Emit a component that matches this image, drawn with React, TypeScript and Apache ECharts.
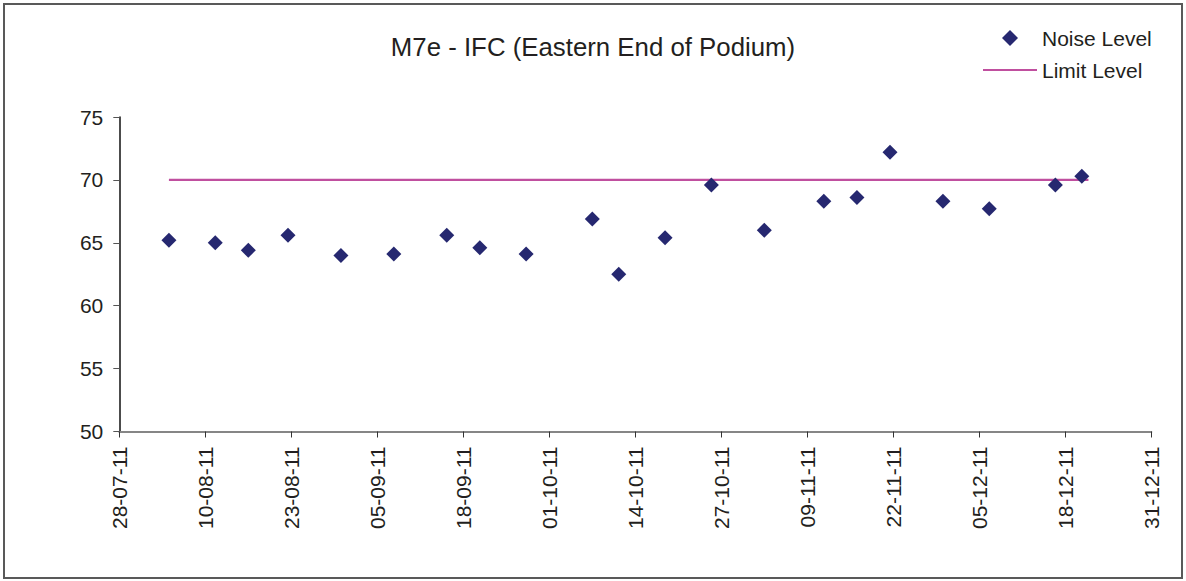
import React, { useEffect, useRef } from "react";
import * as echarts from "echarts";

const START_DATE = "2011-07-28";
const noiseDates = [
  "2011-08-04", "2011-08-11", "2011-08-16", "2011-08-22", "2011-08-30",
  "2011-09-07", "2011-09-15", "2011-09-20", "2011-09-27", "2011-10-07",
  "2011-10-11", "2011-10-18", "2011-10-25", "2011-11-02", "2011-11-11",
  "2011-11-16", "2011-11-21", "2011-11-29", "2011-12-06", "2011-12-16",
  "2011-12-20",
];
const noiseValues = [
  65.2, 65.0, 64.4, 65.6, 64.0,
  64.1, 65.6, 64.6, 64.1, 66.9,
  62.5, 65.4, 69.6, 66.0, 68.3,
  68.6, 72.2, 68.3, 67.7, 69.6,
  70.3,
];
const limitDates = ["2011-08-04", "2011-12-21"];
const limitValues = [70, 70];
const TITLE = "M7e - IFC (Eastern End of Podium)";
const SERIES_NAMES = ["Noise Level", "Limit Level"];

const DAY = 86400000;
const startMs = Date.parse(START_DATE + "T00:00:00Z");
// day slot offset (Excel date axis places a day's point at the centre of its slot)
const toX = (d: string) => (Date.parse(d + "T00:00:00Z") - startMs) / DAY + 0.5;
const fmt = (v: number) => {
  const d = new Date(startMs + v * DAY);
  const dd = String(d.getUTCDate()).padStart(2, "0");
  const mm = String(d.getUTCMonth() + 1).padStart(2, "0");
  const yy = String(d.getUTCFullYear()).slice(2);
  return `${dd}-${mm}-${yy}`;
};

const FONT = "'Liberation Sans', Arial, sans-serif";
const TXT = "#231f20";
const NAVY = "#262870";
const MAGENTA = "#c04f9f";

export default function App() {
  const ref = useRef<HTMLDivElement>(null);
  useEffect(() => {
    if (!ref.current) return;
    const chart = echarts.init(ref.current, null, { renderer: "svg" });
    chart.setOption({
      animation: false,
      backgroundColor: "#ffffff",
      textStyle: { fontFamily: FONT, color: TXT },
      title: {
        text: TITLE,
        left: "center",
        top: 29,
        textStyle: { fontSize: 25.8, fontWeight: "normal", color: TXT, fontFamily: FONT },
      },
      legend: {
        orient: "vertical",
        left: 983,
        top: 26,
        padding: 0,
        itemWidth: 54,
        itemHeight: 16,
        itemGap: 8,
        textStyle: { fontSize: 21, color: TXT, fontFamily: FONT, lineHeight: 24 },
        data: [
          { name: SERIES_NAMES[0], icon: "path://M0,-1L1,0L0,1L-1,0Z", itemStyle: { color: NAVY, opacity: 1 } },
          { name: SERIES_NAMES[1], icon: "path://M0,0H54V2.2H0Z", itemStyle: { color: MAGENTA } },
        ],
      },
      graphic: [
        {
          type: "rect",
          shape: { x: 4, y: 4, width: 1178, height: 574 },
          style: { fill: "none", stroke: "#595959", lineWidth: 2 },
          silent: true,
        },
      ],
      grid: { left: 119.3, right: 34.7, top: 117, bottom: 149.5, containLabel: false },
      xAxis: {
        type: "value",
        min: 0,
        max: 156,
        interval: 13,
        splitLine: { show: false },
        axisLine: { show: true, onZero: false, lineStyle: { color: "#868686", width: 2 } },
        axisTick: { show: true, length: 6, lineStyle: { color: "#333", width: 1 } },
        axisLabel: {
          rotate: 90,
          margin: 15,
          fontSize: 21,
          color: TXT,
          fontFamily: FONT,
          formatter: (v: number) => fmt(v),
        },
      },
      yAxis: {
        type: "value",
        min: 50,
        max: 75,
        interval: 5,
        splitLine: { show: false },
        axisLine: { show: true, lineStyle: { color: "#111", width: 1.5 } },
        axisTick: { show: true, length: 6, lineStyle: { color: "#555", width: 1 } },
        axisLabel: { margin: 16, fontSize: 21, color: TXT, fontFamily: FONT },
      },
      series: [
        {
          name: SERIES_NAMES[0],
          type: "scatter",
          symbol: "diamond",
          symbolSize: 15,
          itemStyle: { color: NAVY, opacity: 1 },
          data: noiseDates.map((d, i) => [toX(d), noiseValues[i]]),
          z: 3,
        },
        {
          name: SERIES_NAMES[1],
          type: "line",
          symbol: "none",
          showSymbol: false,
          lineStyle: { color: MAGENTA, width: 2.2 },
          itemStyle: { color: MAGENTA },
          data: limitDates.map((d, i) => [toX(d), limitValues[i]]),
          z: 2,
        },
      ],
    });
    return () => chart.dispose();
  }, []);
  return (
    <div
      ref={ref}
      style={{ position: "absolute", left: 0, top: 0, width: 1186, height: 581 }}
    />
  );
}
